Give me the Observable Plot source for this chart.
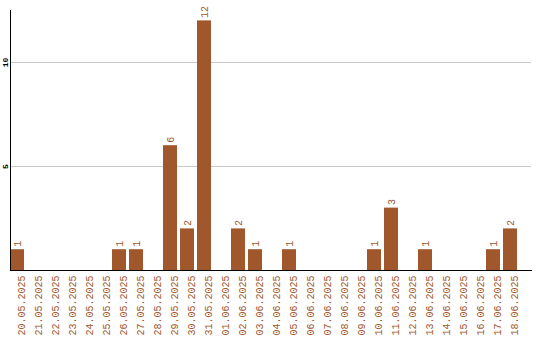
<!DOCTYPE html>
<html>
<head>
<meta charset="utf-8">
<script src="https://cdn.jsdelivr.net/npm/d3@7"></script>
<script src="https://cdn.jsdelivr.net/npm/@observablehq/plot@0.6"></script>
<style>
  html, body { margin: 0; padding: 0; background: white; }
</style>
</head>
<body>
<div id="chart"></div>
<script>
const dates = [
  "20.05.2025","21.05.2025","22.05.2025","23.05.2025","24.05.2025","25.05.2025",
  "26.05.2025","27.05.2025","28.05.2025","29.05.2025","30.05.2025","31.05.2025",
  "01.06.2025","02.06.2025","03.06.2025","04.06.2025","05.06.2025","06.06.2025",
  "07.06.2025","08.06.2025","09.06.2025","10.06.2025","11.06.2025","12.06.2025",
  "13.06.2025","14.06.2025","15.06.2025","16.06.2025","17.06.2025","18.06.2025"
];
const counts = [
  1,0,0,0,0,0,
  1,1,0,6,2,12,
  0,2,1,0,1,0,
  0,0,0,1,3,0,
  1,0,0,0,1,2
];
const yTicks = [5, 10];

const data = dates.map((d, i) => ({date: d, count: counts[i]}));
const brown = "#a0572b";

const chart = Plot.plot({
  width: 540,
  height: 340,
  marginTop: 10,
  marginBottom: 70,
  marginLeft: 10,
  marginRight: 9,
  style: {fontFamily: "'Liberation Mono', monospace", background: "white"},
  x: {type: "band", domain: dates, range: [10, 517], paddingInner: 3/17, paddingOuter: 0},
  y: {domain: [0, 12.5]},
  marks: [
    Plot.ruleY(yTicks, {stroke: "#c8c8c8"}),
    Plot.barY(data, {x: "date", y: "count", fill: brown}),
    Plot.text(data.filter(d => d.count > 0), {
      x: "date", y: "count", text: d => String(d.count),
      rotate: -90, textAnchor: "start", dy: -3, fill: brown, fontSize: 10
    }),
    Plot.axisX({tickSize: 0, tickPadding: 5, rotate: -90, textAnchor: "end", color: brown, fontSize: 10, label: null}),
    Plot.axisY({ticks: yTicks, tickSize: 0, tickPadding: 5.5, rotate: -90, textAnchor: "middle", fontSize: 8, fontWeight: "bold", color: "black", label: null}),
    Plot.frame({anchor: "left", stroke: "black"}),
    Plot.frame({anchor: "bottom", stroke: "black"})
  ]
});
document.getElementById("chart").appendChild(chart);
</script>
</body>
</html>
